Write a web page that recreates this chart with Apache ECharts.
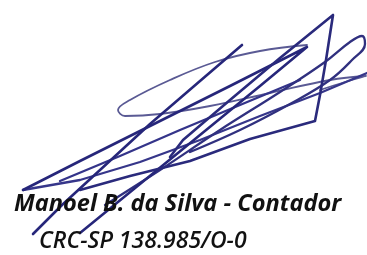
<!DOCTYPE html>
<html>
<head>
<meta charset="utf-8">
<script src="https://cdn.jsdelivr.net/npm/echarts@6/dist/echarts.min.js"></script>
<style>
  html, body { margin: 0; padding: 0; background: #fff; }
  #main { width: 367px; height: 255px; }
</style>
</head>
<body>
<div id="main"></div>
<script>
// signature strokes, points (x right, y down)
var strokeSteep = [[242, 45], [200, 81], [150, 124], [100, 170], [62, 205], [33, 234]];
var strokeV = [[80, 233], [140, 184], [200, 135], [260, 86], [307, 47], [230, 86], [150, 126], [80, 161], [23, 190]];
var strokeBase = [[23, 190], [80, 180], [140, 162], [200, 140], [260, 116], [320, 93], [367, 73]];
var strokePeak = [[170, 157], [183, 140], [230, 100], [280, 58], [333, 15], [326, 60], [320, 95], [315, 121], [250, 139], [190, 161], [130, 176], [80, 190]];
var strokeLoop = [[307, 45], [260, 51], [215, 62], [170, 80], [130, 100], [118, 110], [125, 116], [160, 114], [210, 106], [270, 93], [330, 80], [366, 76], [345, 82], [320, 90]];
var strokeRight = [[105, 205], [160, 170], [220, 130], [280, 92], [325, 62], [350, 42], [362, 36], [365, 44], [352, 60], [330, 80], [290, 104], [240, 130], [190, 152]];
var strokeMid = [[60, 181], [120, 156], [180, 130], [240, 105], [300, 80]];

var nameLine = 'Manoel B. da Silva - Contador';
var crcLine = 'CRC-SP 138.985/O-0';

var myChart = echarts.init(document.getElementById('main'));

function pen(data, width, color, smooth) {
    return {
        type: 'line',
        data: data,
        symbol: 'none',
        smooth: smooth,
        silent: true,
        lineStyle: { color: color, width: width, cap: 'round', join: 'round' }
    };
}

var option = {
    animation: false,
    grid: { left: 0, right: 0, top: 0, bottom: 0 },
    xAxis: { type: 'value', min: 0, max: 367, show: false },
    yAxis: { type: 'value', min: 0, max: 255, inverse: true, show: false },
    series: [
        pen(strokeLoop, 1.8, '#5a5a94', 0.4),
        pen(strokeBase, 2.3, '#36368a', false),
        pen(strokeMid, 2.3, '#34348a', false),
        pen(strokeRight, 2.3, '#30307f', 0.4),
        pen(strokeV, 2.6, '#26267a', false),
        pen(strokePeak, 2.6, '#2a2a7c', false),
        pen(strokeSteep, 2.6, '#26267a', false)
    ],
    graphic: [
        {
            type: 'text', left: 14, top: 192, z: 100,
            style: {
                text: nameLine,
                font: 'italic bold 23.6px "Open Sans", sans-serif',
                fill: '#111'
            }
        },
        {
            type: 'text', left: 39, top: 230, z: 100,
            style: {
                text: crcLine,
                font: 'italic 600 23px "Open Sans", sans-serif',
                fill: '#111'
            }
        }
    ]
};
myChart.setOption(option);
</script>
</body>
</html>
